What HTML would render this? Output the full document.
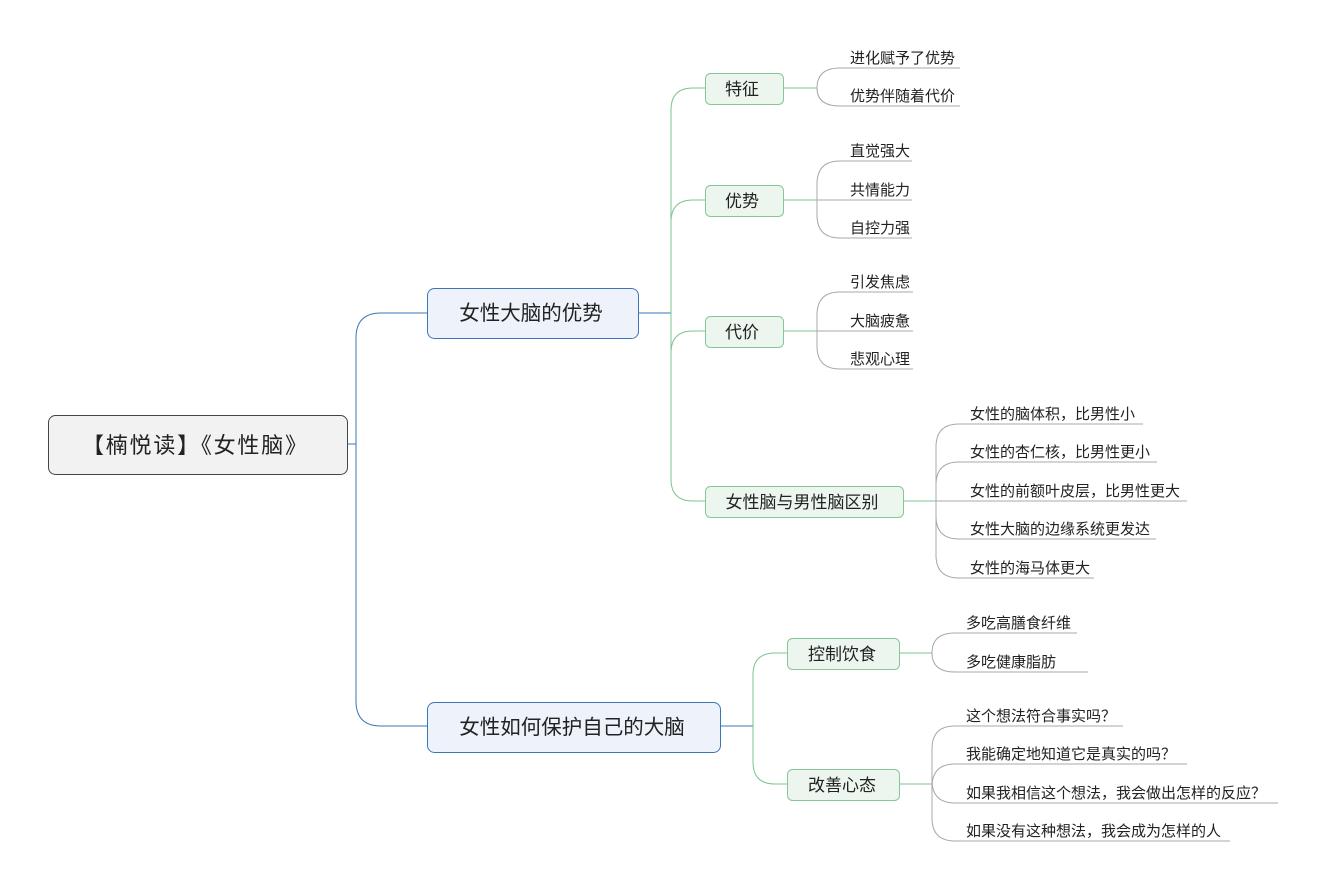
<!DOCTYPE html>
<html><head><meta charset="utf-8"><style>
html,body{margin:0;padding:0;background:#fff;}
svg{display:block;}
text{font-family:"Liberation Sans","Noto Sans CJK SC",sans-serif;fill:#222;}
</style></head><body>
<svg width="1324" height="890" viewBox="0 0 1324 890" xmlns="http://www.w3.org/2000/svg">
<g fill="none" stroke="#3a75b8" stroke-width="1">
<path d="M347,444 L356,444"/>
<path d="M427,313 L381,313 Q356,313 356,338 L356,701 Q356,726 381,726 L427,726"/>
<path d="M638,313 L671,313"/>
<path d="M720,726 L753,726"/>
</g>
<g fill="none" stroke="#7dc48e" stroke-width="1">
<path d="M705,88 L693,88 Q671,88 671,110 L671,479 Q671,501 693,501 L705,501"/>
<path d="M705,200 L693,200 Q671,200 671,222"/>
<path d="M705,331 L693,331 Q671,331 671,353"/>
<path d="M787,653 L775,653 Q753,653 753,675 L753,762 Q753,784 775,784 L787,784"/>
<path d="M783,88 L817,88"/>
<path d="M783,200 L817,200"/>
<path d="M783,331 L817,331"/>
<path d="M903,501 L936,501"/>
<path d="M899,653 L932,653"/>
<path d="M899,784 L932,784"/>
</g>
<g fill="none" stroke="#a8a8a8" stroke-width="1">
<path d="M817,88 Q817,68 840,68 L960,68"/>
<path d="M817,88 Q817,106 840,106 L960,106"/>
<path d="M817,200 L817,184 Q817,161 840,161 L912,161"/>
<path d="M817,200 L912,200"/>
<path d="M817,200 L817,215 Q817,238 840,238 L912,238"/>
<path d="M817,331 L817,315 Q817,292 840,292 L913,292"/>
<path d="M817,331 L913,331"/>
<path d="M817,331 L817,346 Q817,369 840,369 L913,369"/>
<path d="M936,501 L936,447 Q936,424 959,424 L1143,424"/>
<path d="M936,501 L936,485 Q936,462 959,462 L1157,462"/>
<path d="M936,501 L1187,501"/>
<path d="M936,501 L936,516 Q936,539 959,539 L1156,539"/>
<path d="M936,501 L936,555 Q936,578 959,578 L1094,578"/>
<path d="M932,653 Q932,633 955,633 L1077,633"/>
<path d="M932,653 Q932,672 955,672 L1088,672"/>
<path d="M932,784 L932,749 Q932,726 955,726 L1123,726"/>
<path d="M932,784 L932,787 Q932,764 955,764 L1187,764"/>
<path d="M932,784 L932,780 Q932,803 955,803 L1278,803"/>
<path d="M932,784 L932,818 Q932,841 955,841 L1230,841"/>
</g>
<rect x="48.5" y="415.5" width="299" height="59" rx="7" fill="#f2f2f2" stroke="#444"/>
<text x="82" y="453" font-size="22" textLength="225" lengthAdjust="spacing">【楠悦读】《女性脑》</text>
<rect x="427.5" y="288.5" width="211" height="50" rx="7" fill="#eef3fb" stroke="#3a75b8"/>
<text x="531" y="320" font-size="20.5" text-anchor="middle">女性大脑的优势</text>
<rect x="427.5" y="702.5" width="293" height="50" rx="7" fill="#eef3fb" stroke="#3a75b8"/>
<text x="572" y="734" font-size="20.5" text-anchor="middle">女性如何保护自己的大脑</text>
<g fill="#ecf5ee" stroke="#86c796">
<rect x="705.5" y="73.5" width="78" height="31" rx="5"/>
<rect x="705.5" y="185.5" width="78" height="31" rx="5"/>
<rect x="705.5" y="316.5" width="78" height="31" rx="5"/>
<rect x="705.5" y="486.5" width="198" height="31" rx="5"/>
<rect x="787.5" y="638.5" width="112" height="31" rx="5"/>
<rect x="787.5" y="769.5" width="112" height="31" rx="5"/>
</g>
<g font-size="17" text-anchor="middle">
<text x="742" y="95">特征</text>
<text x="742" y="207">优势</text>
<text x="742" y="338">代价</text>
<text x="802" y="508">女性脑与男性脑区别</text>
<text x="842" y="660">控制饮食</text>
<text x="842" y="791">改善心态</text>
</g>
<g font-size="15">
<text x="850" y="63">进化赋予了优势</text>
<text x="850" y="101">优势伴随着代价</text>
<text x="850" y="156">直觉强大</text>
<text x="850" y="195">共情能力</text>
<text x="850" y="233">自控力强</text>
<text x="850" y="287">引发焦虑</text>
<text x="850" y="326">大脑疲惫</text>
<text x="850" y="364">悲观心理</text>
<text x="970" y="419">女性的脑体积，比男性小</text>
<text x="970" y="457">女性的杏仁核，比男性更小</text>
<text x="970" y="496">女性的前额叶皮层，比男性更大</text>
<text x="970" y="534">女性大脑的边缘系统更发达</text>
<text x="970" y="573">女性的海马体更大</text>
<text x="966" y="628">多吃高膳食纤维</text>
<text x="966" y="667">多吃健康脂肪</text>
<text x="966" y="721">这个想法符合事实吗？</text>
<text x="966" y="759">我能确定地知道它是真实的吗？</text>
<text x="966" y="798">如果我相信这个想法，我会做出怎样的反应？</text>
<text x="966" y="836">如果没有这种想法，我会成为怎样的人</text>
</g>
</svg>
</body></html>
